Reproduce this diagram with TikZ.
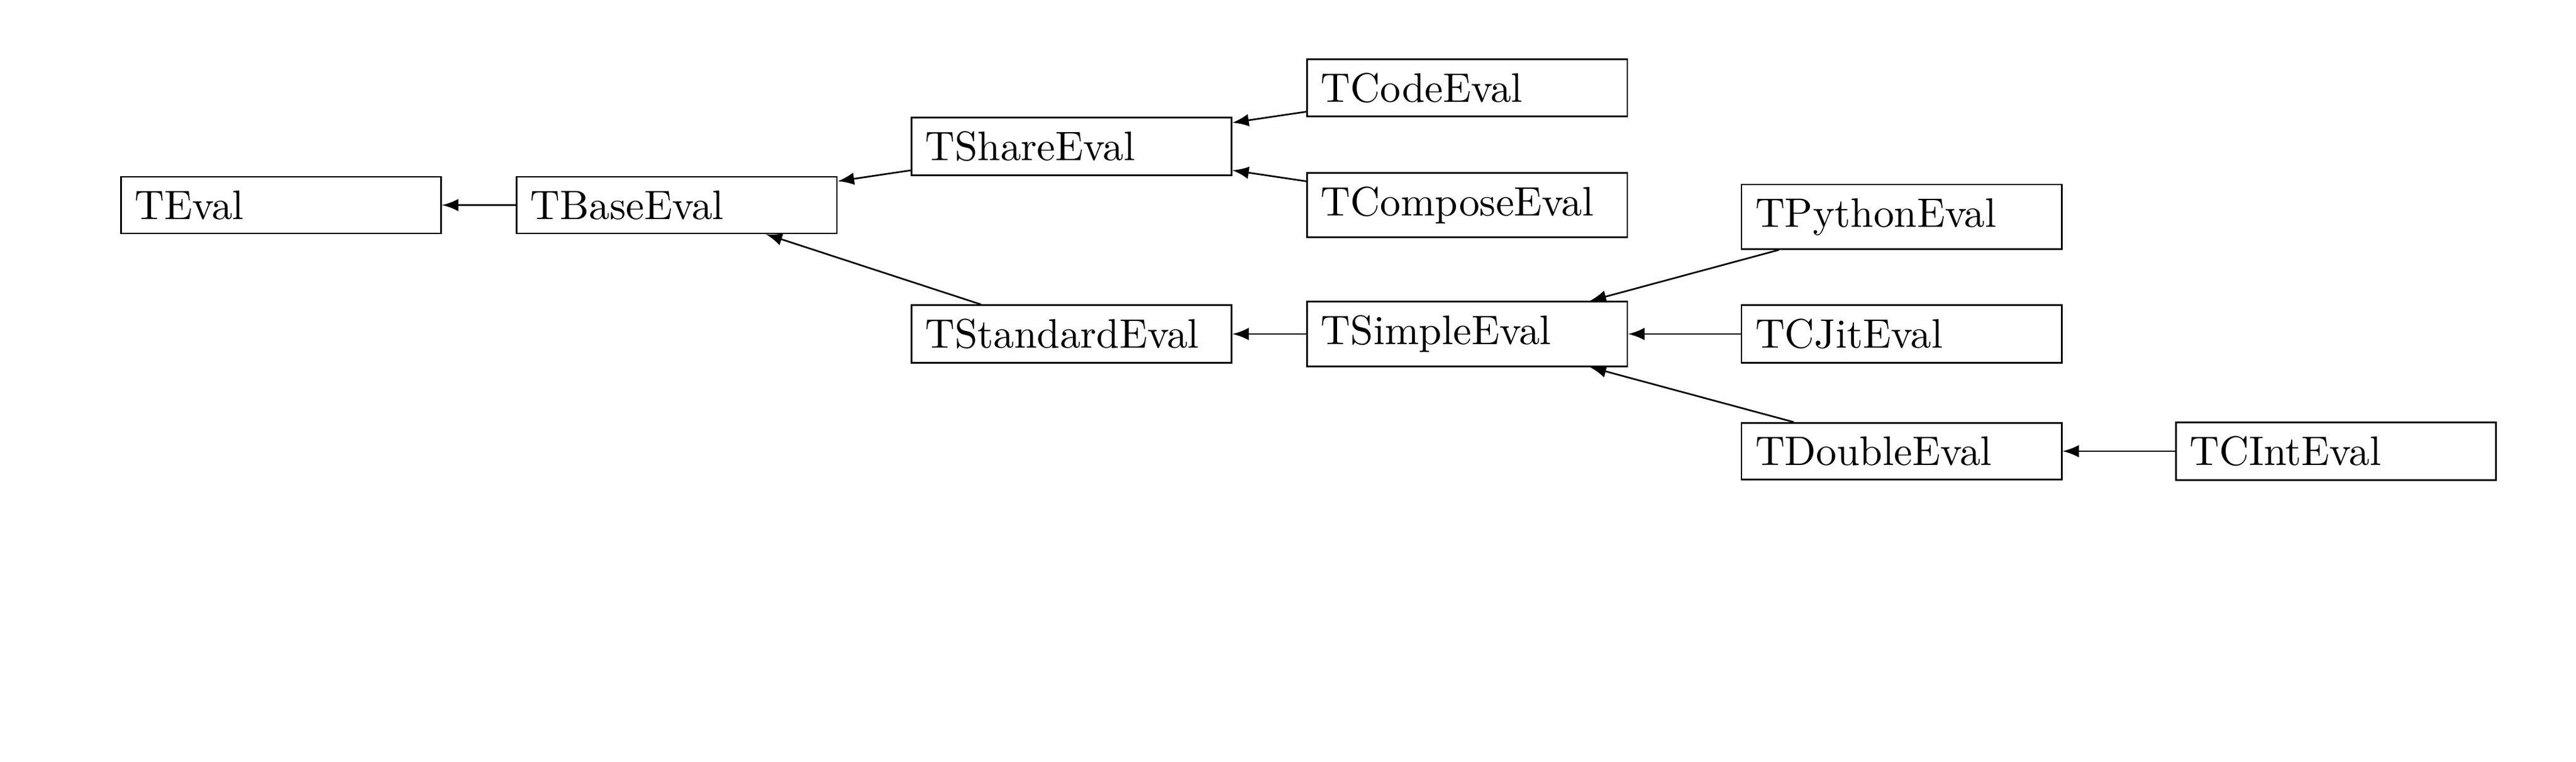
\documentclass[tikz,border=0pt]{standalone}
\usepackage{tikz}

\begin{document}
\begin{tikzpicture}[
  evalbox/.style={draw, text width=2.5cm, align=left},
  inherit/.style={-latex}
]
\useasboundingbox (0,0) rectangle (22,6.5);
% Evaluator class hierarchy
\node[evalbox] (teval) at (2.40,4.75) {TEval};
\node[evalbox] (tbase) at (5.78,4.75) {TBaseEval};
\node[evalbox] (tshare) at (9.15,5.25) {TShareEval};
\node[evalbox] (tstandard) at (9.15,3.65) {TStandardEval};
\node[evalbox] (tcode) at (12.53,5.75) {TCodeEval};
\node[evalbox] (tcompose) at (12.53,4.75) {TComposeEval};
\node[evalbox] (tsimple) at (12.53,3.65) {TSimpleEval};
\node[evalbox] (tpython) at (16.24,4.65) {TPythonEval};
\node[evalbox] (tcjit) at (16.24,3.65) {TCJitEval};
\node[evalbox] (tdouble) at (16.24,2.65) {TDoubleEval};
\node[evalbox] (tcint) at (19.95,2.65) {TCIntEval};

\draw[inherit] (tbase) -- (teval);
\draw[inherit] (tshare) -- (tbase);
\draw[inherit] (tstandard) -- (tbase);
\draw[inherit] (tcode) -- (tshare);
\draw[inherit] (tcompose) -- (tshare);
\draw[inherit] (tsimple) -- (tstandard);
\draw[inherit] (tpython) -- (tsimple);
\draw[inherit] (tcjit) -- (tsimple);
\draw[inherit] (tdouble) -- (tsimple);
\draw[inherit] (tcint) -- (tdouble);
\end{tikzpicture}
\end{document}
